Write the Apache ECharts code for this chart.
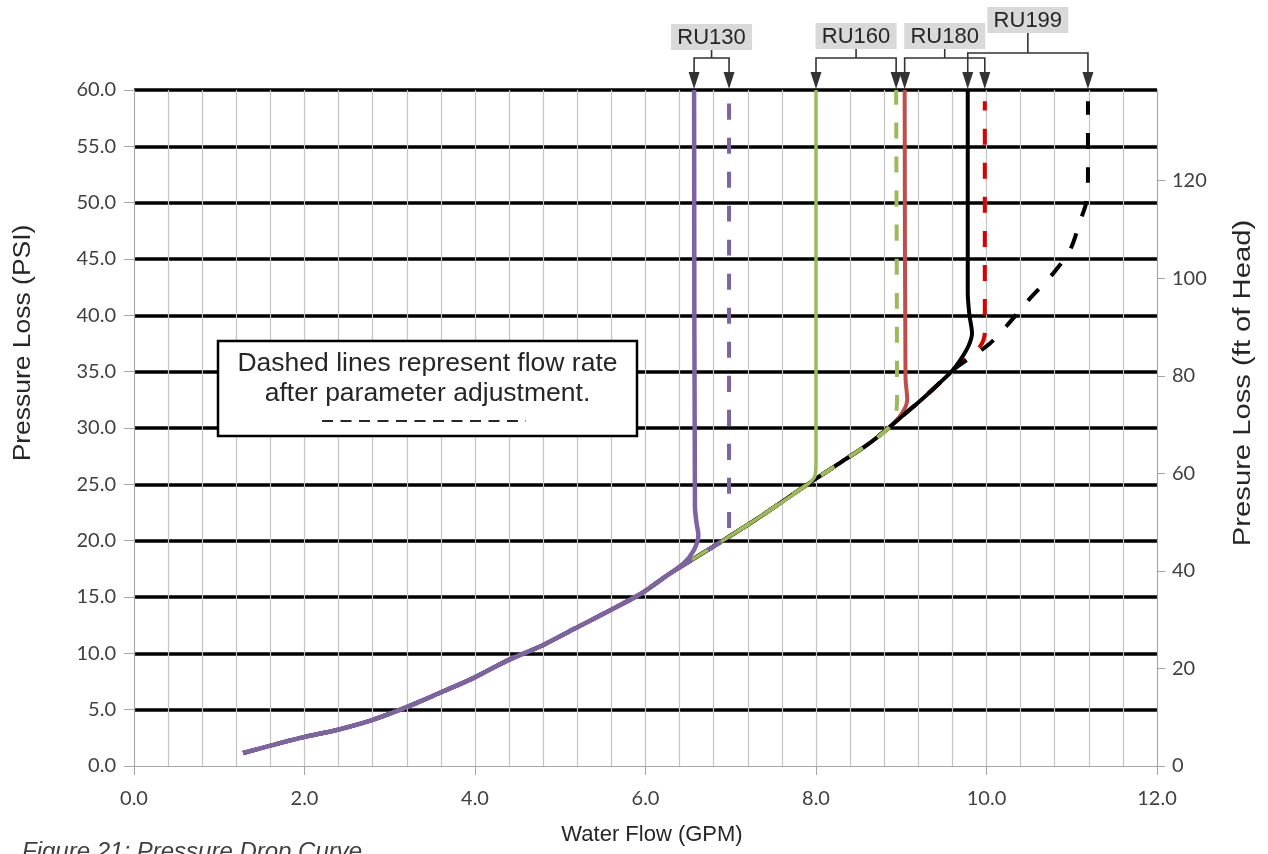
<!DOCTYPE html>
<html>
<head>
<meta charset="utf-8">
<script src="https://cdn.jsdelivr.net/npm/echarts@6/dist/echarts.min.js"></script>
<style>
html,body{margin:0;padding:0;background:#fff;}
#chart{width:1268px;height:854px;}
</style>
</head>
<body>
<div id="chart"></div>
<script>
// ---- data (GPM vs PSI) ----
const baseFlow = [1.28, 1.95, 2.38, 2.80, 3.19, 3.59, 3.98, 4.39, 4.79, 5.17, 5.58, 5.97, 6.25];
const basePsi  = [1.15, 2.5, 3.2, 4.1, 5.2, 6.5, 7.8, 9.4, 10.7, 12.2, 13.8, 15.4, 16.9];
const midFlow  = [6.8, 7.3, 7.9, 8.3, 8.6, 8.85, 9.05, 9.25, 9.45, 9.6];
const midPsi   = [19.5, 21.9, 25.0, 27.0, 28.5, 30.0, 31.3, 32.6, 34.0, 35.1];

const ru130Flow = [6.45, 6.57, 6.62, 6.60, 6.58, 6.57];
const ru130Psi  = [18.0, 19.2, 20.5, 21.5, 23.0, 60.0];
const ru130AdjFlow = [6.8, 6.98, 6.98];
const ru130AdjPsi  = [19.5, 20.6, 59.0];
const ru160Flow = [6.8, 7.3, 7.9, 7.99, 8.0, 8.0];
const ru160Psi  = [19.5, 21.9, 25.0, 25.8, 27.0, 60.0];
const ru160AdjFlow = [6.8, 7.3, 7.9, 8.3, 8.6, 8.85, 8.93, 8.95, 8.94];
const ru160AdjPsi  = [19.5, 21.9, 25.0, 27.0, 28.5, 30.0, 31.0, 32.5, 60.0];
const ru180Flow = [6.8, 7.3, 7.9, 8.3, 8.6, 8.85, 9.0, 9.07, 9.05, 9.04];
const ru180Psi  = [19.5, 21.9, 25.0, 27.0, 28.5, 30.0, 31.2, 32.5, 34.5, 60.0];
const ru180AdjFlow = [9.75, 9.92, 9.98, 9.98];
const ru180AdjPsi  = [36.3, 37.2, 38.5, 59.0];
const ru199Flow = [9.69, 9.79, 9.83, 9.80, 9.78, 9.78];
const ru199Psi  = [36.0, 37.3, 38.4, 40.0, 42.0, 60.0];
const ru199AdjFlow = [9.8, 10.04, 10.24, 10.51, 10.78, 10.98, 11.10, 11.17, 11.19, 11.19];
const ru199AdjPsi  = [36.2, 37.5, 39.1, 41.5, 43.7, 45.8, 48.4, 50.0, 52.0, 59.0];

const modelNames = ['RU130', 'RU160', 'RU180', 'RU199'];
const xTickLabels = ['0.0','2.0','4.0','6.0','8.0','10.0','12.0'];
const PSI_TO_FT = 2.31;

function pairs(fx, py) { return fx.map((x, i) => [x, py[i]]); }
const curves = {
  ru130:    pairs(baseFlow.concat(ru130Flow), basePsi.concat(ru130Psi)),
  ru130Adj: pairs(baseFlow.concat(ru130AdjFlow), basePsi.concat(ru130AdjPsi)),
  ru160:    pairs(baseFlow.concat(ru160Flow), basePsi.concat(ru160Psi)),
  ru160Adj: pairs(baseFlow.concat(ru160AdjFlow), basePsi.concat(ru160AdjPsi)),
  ru180:    pairs(baseFlow.concat(ru180Flow), basePsi.concat(ru180Psi)),
  ru180Adj: pairs(baseFlow.concat(midFlow, ru180AdjFlow), basePsi.concat(midPsi, ru180AdjPsi)),
  ru199:    pairs(baseFlow.concat(midFlow, ru199Flow), basePsi.concat(midPsi, ru199Psi)),
  ru199Adj: pairs(baseFlow.concat(midFlow, ru199AdjFlow), basePsi.concat(midPsi, ru199AdjPsi))
};

const chart = echarts.init(document.getElementById('chart'), null, {renderer: 'canvas'});

function line(name, data, color, width, dashed) {
  return {
    name: name, type: 'line', data: data, showSymbol: false, symbol: 'none',
    smooth: 0.3, animation: false, xAxisIndex: 0, yAxisIndex: 0,
    lineStyle: {color: color, width: width, type: dashed ? [16, 18] : 'solid', cap: 'butt', join: 'round'}
  };
}

const PURPLE = '#7e63a3', GREEN = '#9bbb59', REDS = '#bf4e4b', REDD = '#d90000', BLACK = '#000000';

const option = {
  animation: false,
  backgroundColor: '#ffffff',
  grid: {left: 134, right: 111, top: 90, bottom: 88, containLabel: false},
  xAxis: {
    type: 'value', min: 0, max: 12, interval: 2,
    axisLine: {show: true, onZero: false, lineStyle: {color: '#a6a6a6', width: 1}},
    axisTick: {show: true, length: 9, lineStyle: {color: '#a6a6a6'}},
    axisLabel: {color: '#404040', fontFamily: 'Lato', fontSize: 20, margin: 23,
      formatter: v => xTickLabels[Math.round(v / 2)] ?? v.toFixed(1)},
    splitLine: {show: true, lineStyle: {color: '#c4c4c4', width: 1.2}},
    minorTick: {show: false, splitNumber: 5},
    minorSplitLine: {show: true, lineStyle: {color: '#c4c4c4', width: 1.2}}
  },
  yAxis: [{
    type: 'value', min: 0, max: 60, interval: 5, position: 'left',
    axisLine: {show: true, onZero: false, lineStyle: {color: '#a6a6a6', width: 1}},
    axisTick: {show: true, length: 10, lineStyle: {color: '#a6a6a6'}},
    axisLabel: {color: '#404040', fontFamily: 'Lato', fontSize: 20, margin: 18,
      formatter: v => v.toFixed(1)},
    splitLine: {show: true, showMinLine: false, lineStyle: {color: '#000', width: 3.6}}
  }, {
    type: 'value', min: 0, max: 60 * PSI_TO_FT, interval: 20, position: 'right',
    axisLine: {show: true, onZero: false, lineStyle: {color: '#a6a6a6', width: 1}},
    axisTick: {show: true, length: 8, lineStyle: {color: '#a6a6a6'}},
    axisLabel: {color: '#404040', fontFamily: 'Lato', fontSize: 20, margin: 15, showMaxLabel: false,
      formatter: v => String(Math.round(v))},
    splitLine: {show: false}
  }],
  series: [
    line('RU180', curves.ru180, REDS, 4, false),
    line('RU180 adj', curves.ru180Adj, REDD, 4, true),
    line('RU199', curves.ru199, BLACK, 4, false),
    line('RU199 adj', curves.ru199Adj, BLACK, 4, true),
    line('RU160 adj', curves.ru160Adj, GREEN, 4, true),
    line('RU160', curves.ru160, GREEN, 3.5, false),
    line('RU130 adj', curves.ru130Adj, PURPLE, 4, true),
    line('RU130', curves.ru130, PURPLE, 4.5, false)
  ]
};
chart.setOption(option);

// ---- annotations computed from the axis scales ----
function px(x, y) { return chart.convertToPixel({xAxisIndex: 0, yAxisIndex: 0}, [x, y]); }
const topOf = arr => arr[arr.length - 1];
const groups = [
  {name: modelNames[0], xs: [topOf(curves.ru130)[0], topOf(curves.ru130Adj)[0]], barY: 58, boxTop: 24},
  {name: modelNames[1], xs: [topOf(curves.ru160)[0], topOf(curves.ru160Adj)[0]], barY: 58, boxTop: 23},
  {name: modelNames[2], xs: [topOf(curves.ru180)[0], topOf(curves.ru180Adj)[0]], barY: 58, boxTop: 23},
  {name: modelNames[3], xs: [topOf(curves.ru199)[0], topOf(curves.ru199Adj)[0]], barY: 53, boxTop: 7}
];
const plotTop = px(0, 60)[1];
const graphics = [];
const ARROW = '#333333';
groups.forEach(g => {
  const x1 = px(g.xs[0], 60)[0], x2 = px(g.xs[1], 60)[0];
  const cx = (x1 + x2) / 2;
  const bw = 81, bh = 26;
  graphics.push({type: 'rect', shape: {x: cx - bw / 2, y: g.boxTop, width: bw, height: bh},
    style: {fill: '#d9d9d9'}, z: 10});
  graphics.push({type: 'text', x: cx, y: g.boxTop + bh / 2 + 1,
    style: {text: g.name, fill: '#262626', font: '22px "Liberation Sans", Arial, sans-serif',
      align: 'center', verticalAlign: 'middle'}, z: 11});
  graphics.push({type: 'polyline', shape: {points: [[cx, g.boxTop + bh], [cx, g.barY]]},
    style: {stroke: ARROW, lineWidth: 1.6}, z: 10});
  graphics.push({type: 'polyline', shape: {points: [[x1, plotTop - 16], [x1, g.barY], [x2, g.barY], [x2, plotTop - 16]]},
    style: {stroke: ARROW, lineWidth: 1.6, fill: null}, z: 10});
  [x1, x2].forEach(ax => {
    graphics.push({type: 'polygon', shape: {points: [[ax - 5.5, plotTop - 18], [ax + 5.5, plotTop - 18], [ax, plotTop - 1]]},
      style: {fill: ARROW}, z: 10});
  });
});

// note box
graphics.push({type: 'rect', shape: {x: 218, y: 341, width: 419, height: 95},
  style: {fill: '#ffffff', stroke: '#000000', lineWidth: 2.5}, z: 20});
graphics.push({type: 'text', x: 427.5, y: 364, scaleX: 1.06,
  style: {text: 'Dashed lines represent flow rate', fill: '#262626',
    font: '25px "Liberation Sans", Arial, sans-serif', align: 'center', verticalAlign: 'middle'}, z: 21});
graphics.push({type: 'text', x: 427.5, y: 394, scaleX: 1.06,
  style: {text: 'after parameter adjustment.', fill: '#262626',
    font: '25px "Liberation Sans", Arial, sans-serif', align: 'center', verticalAlign: 'middle'}, z: 21});
graphics.push({type: 'line', shape: {x1: 322, y1: 421, x2: 526, y2: 421},
  style: {stroke: '#262626', lineWidth: 2, lineDash: [11, 7.5]}, z: 21});

// axis titles and caption
graphics.push({type: 'text', x: 24, y: 343, rotation: Math.PI / 2, scaleX: 1.15,
  style: {text: 'Pressure Loss (PSI)', fill: '#262626', font: '23px "Liberation Sans", Arial, sans-serif',
    align: 'center', verticalAlign: 'middle'}, z: 5});
graphics.push({type: 'text', x: 1244, y: 383, rotation: Math.PI / 2, scaleX: 1.27,
  style: {text: 'Presure Loss (ft of Head)', fill: '#262626', font: '23px "Liberation Sans", Arial, sans-serif',
    align: 'center', verticalAlign: 'middle'}, z: 5});
graphics.push({type: 'text', x: 652, y: 835,
  style: {text: 'Water Flow (GPM)', fill: '#262626', font: '22px "Liberation Sans", Arial, sans-serif',
    align: 'center', verticalAlign: 'middle'}, z: 5});
graphics.push({type: 'text', x: 22, y: 840,
  style: {text: 'Figure 21: Pressure Drop Curve', fill: '#404040', font: 'italic 24px "Liberation Sans", Arial, sans-serif',
    align: 'left', verticalAlign: 'top'}, z: 5});

chart.setOption({graphic: {elements: graphics}});
</script>
</body>
</html>
